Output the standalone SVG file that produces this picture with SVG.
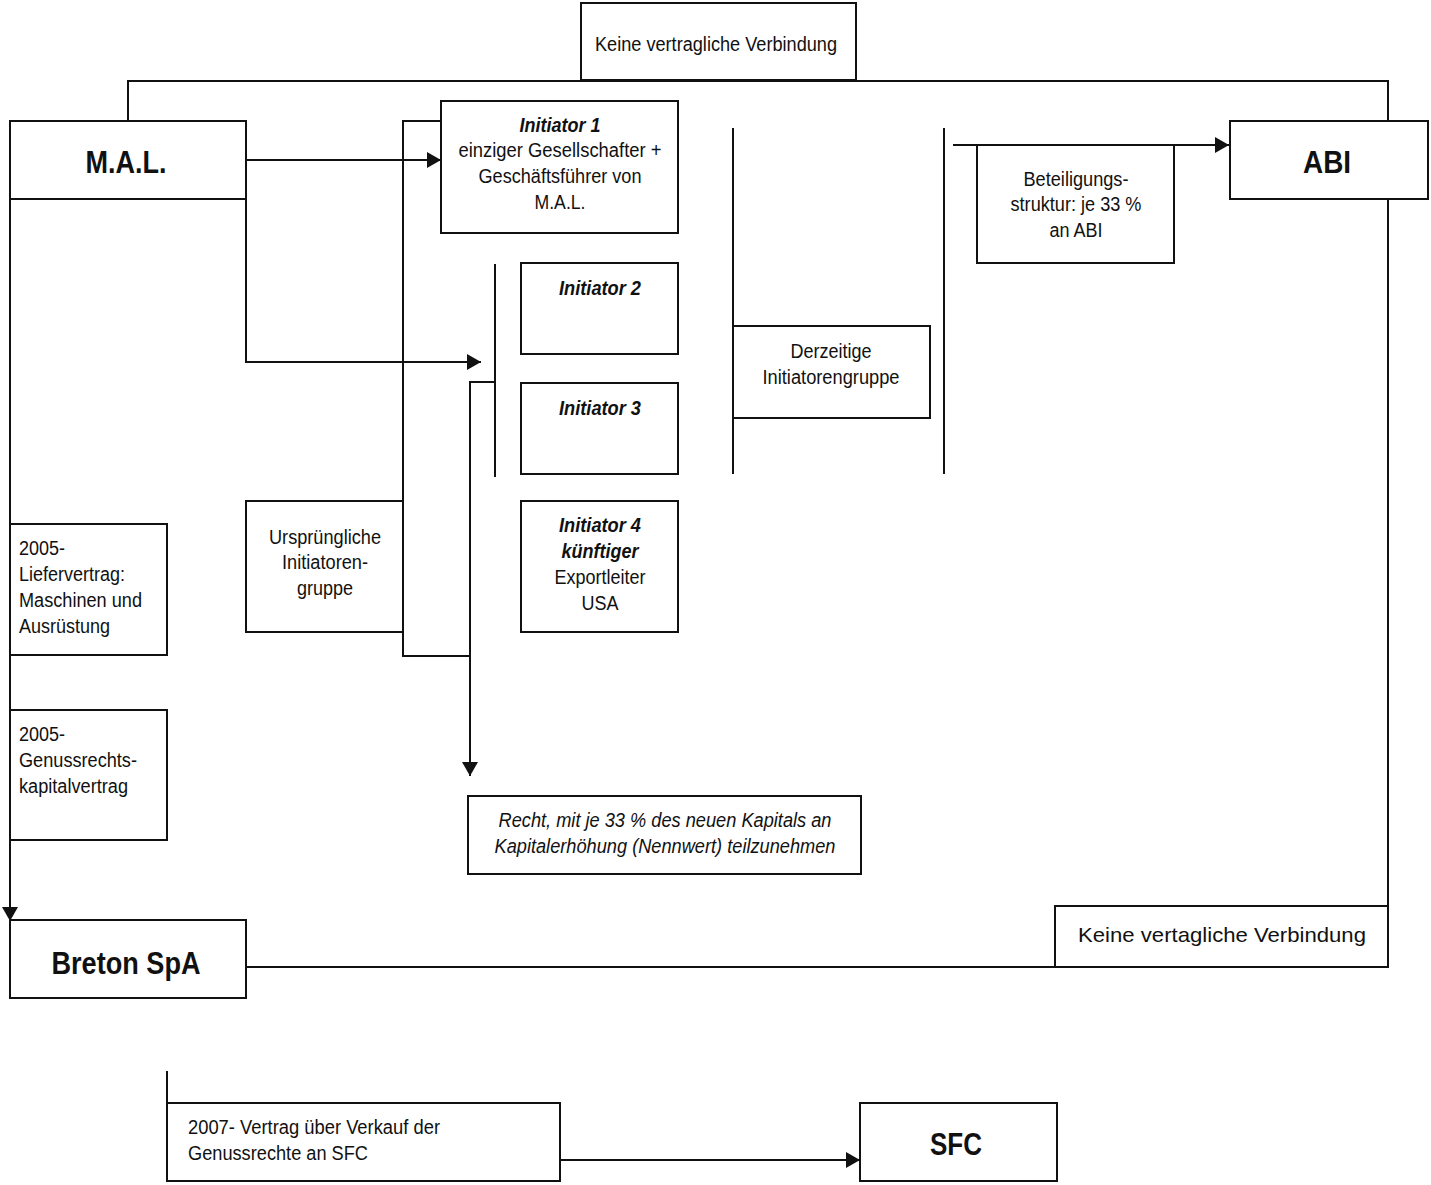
<svg xmlns="http://www.w3.org/2000/svg" width="1431" height="1185" viewBox="0 0 1431 1185">
<style>
.box{fill:#fff;stroke:#111;stroke-width:2}
.ln{fill:none;stroke:#111;stroke-width:2}
text{font-family:"Liberation Sans Narrow","Arial Narrow","Liberation Sans",sans-serif;font-size:20px;fill:#111}
.c{text-anchor:middle}
.b{font-weight:bold}
.big{font-size:31px;font-weight:bold}
.i{font-style:italic}
</style>
<defs>
<marker id="ah2" markerWidth="14" markerHeight="16" refX="14" refY="8" orient="auto" markerUnits="userSpaceOnUse" viewBox="0 0 14 16">
<path d="M0,0 L14,8 L0,16 z" fill="#111"/>
</marker>
</defs>
<rect width="1431" height="1185" fill="#fff"/>
<g id="connectors">
<polyline class="ln" points="128,121 128,81 1388,81 1388,121"/>
<line class="ln" x1="1388" y1="199" x2="1388" y2="906"/>
<line class="ln" x1="246" y1="967" x2="1055" y2="967"/>
<line class="ln" x1="246" y1="160" x2="441" y2="160" marker-end="url(#ah2)"/>
<polyline class="ln" points="246,199 246,362 481,362" marker-end="url(#ah2)"/>
<line class="ln" x1="10" y1="199" x2="10" y2="921" marker-end="url(#ah2)"/>
<polyline class="ln" points="441,121 403,121 403,656 470,656"/>
<line class="ln" x1="495" y1="264" x2="495" y2="477"/>
<polyline class="ln" points="495,382 470,382 470,776" marker-end="url(#ah2)"/>
<line class="ln" x1="733" y1="128" x2="733" y2="474"/>
<line class="ln" x1="944" y1="128" x2="944" y2="474"/>
<line class="ln" x1="953" y1="145" x2="1229" y2="145" marker-end="url(#ah2)"/>
<line class="ln" x1="167" y1="1071" x2="167" y2="1103"/>
<line class="ln" x1="560" y1="1160" x2="860" y2="1160" marker-end="url(#ah2)"/>
</g>
<g id="top-label">
<rect class="box" x="581" y="3" width="275" height="77"/>
<text class="c" x="716" y="51" textLength="242" lengthAdjust="spacingAndGlyphs">Keine vertragliche Verbindung</text>
</g>
<g id="mal">
<rect class="box" x="10" y="121" width="236" height="78"/>
<text class="c big" x="126" y="173" textLength="81" lengthAdjust="spacingAndGlyphs">M.A.L.</text>
</g>
<g id="initiator1">
<rect class="box" x="441" y="101" width="237" height="132"/>
<text class="c b i" x="560" y="132" textLength="81" lengthAdjust="spacingAndGlyphs">Initiator 1</text>
<text class="c" x="560" y="157" textLength="203" lengthAdjust="spacingAndGlyphs">einziger Gesellschafter +</text>
<text class="c" x="560" y="183" textLength="163" lengthAdjust="spacingAndGlyphs">Geschäftsführer von</text>
<text class="c" x="560" y="209" textLength="51" lengthAdjust="spacingAndGlyphs">M.A.L.</text>
</g>
<g id="initiator2">
<rect class="box" x="521" y="263" width="157" height="91"/>
<text class="c b i" x="600" y="295" textLength="82" lengthAdjust="spacingAndGlyphs">Initiator 2</text>
</g>
<g id="initiator3">
<rect class="box" x="521" y="383" width="157" height="91"/>
<text class="c b i" x="600" y="415" textLength="82" lengthAdjust="spacingAndGlyphs">Initiator 3</text>
</g>
<g id="initiator4">
<rect class="box" x="521" y="501" width="157" height="131"/>
<text class="c b i" x="600" y="532" textLength="82" lengthAdjust="spacingAndGlyphs">Initiator 4</text>
<text class="c b i" x="600" y="558" textLength="77" lengthAdjust="spacingAndGlyphs">künftiger</text>
<text class="c" x="600" y="584" textLength="91" lengthAdjust="spacingAndGlyphs">Exportleiter</text>
<text class="c" x="600" y="610" textLength="37" lengthAdjust="spacingAndGlyphs">USA</text>
</g>
<g id="urspruengliche">
<rect class="box" x="246" y="501" width="157" height="131"/>
<text class="c" x="325" y="544" textLength="112" lengthAdjust="spacingAndGlyphs">Ursprüngliche</text>
<text class="c" x="325" y="569" textLength="86" lengthAdjust="spacingAndGlyphs">Initiatoren-</text>
<text class="c" x="325" y="595" textLength="56" lengthAdjust="spacingAndGlyphs">gruppe</text>
</g>
<g id="derzeitige">
<rect class="box" x="733" y="326" width="197" height="92"/>
<text class="c" x="831" y="358" textLength="81" lengthAdjust="spacingAndGlyphs">Derzeitige</text>
<text class="c" x="831" y="384" textLength="137" lengthAdjust="spacingAndGlyphs">Initiatorengruppe</text>
</g>
<g id="beteiligung">
<rect class="box" x="977" y="145" width="197" height="118"/>
<text class="c" x="1076" y="186" textLength="105" lengthAdjust="spacingAndGlyphs">Beteiligungs-</text>
<text class="c" x="1076" y="211" textLength="131" lengthAdjust="spacingAndGlyphs">struktur: je 33 %</text>
<text class="c" x="1076" y="237" textLength="53" lengthAdjust="spacingAndGlyphs">an ABI</text>
</g>
<g id="abi">
<rect class="box" x="1230" y="121" width="198" height="78"/>
<text class="c big" x="1327" y="173" textLength="48" lengthAdjust="spacingAndGlyphs">ABI</text>
</g>
<g id="liefervertrag">
<rect class="box" x="10" y="524" width="157" height="131"/>
<text x="19" y="555" textLength="46" lengthAdjust="spacingAndGlyphs">2005-</text>
<text x="19" y="581" textLength="106" lengthAdjust="spacingAndGlyphs">Liefervertrag:</text>
<text x="19" y="607" textLength="123" lengthAdjust="spacingAndGlyphs">Maschinen und</text>
<text x="19" y="633" textLength="91" lengthAdjust="spacingAndGlyphs">Ausrüstung</text>
</g>
<g id="genussrecht">
<rect class="box" x="10" y="710" width="157" height="130"/>
<text x="19" y="741" textLength="46" lengthAdjust="spacingAndGlyphs">2005-</text>
<text x="19" y="767" textLength="118" lengthAdjust="spacingAndGlyphs">Genussrechts-</text>
<text x="19" y="793" textLength="109" lengthAdjust="spacingAndGlyphs">kapitalvertrag</text>
</g>
<g id="recht">
<rect class="box" x="468" y="796" width="393" height="78"/>
<text class="c i" x="665" y="827" textLength="333" lengthAdjust="spacingAndGlyphs">Recht, mit je 33 % des neuen Kapitals an</text>
<text class="c i" x="665" y="853" textLength="341" lengthAdjust="spacingAndGlyphs">Kapitalerhöhung (Nennwert) teilzunehmen</text>
</g>
<g id="keine2">
<rect class="box" x="1055" y="906" width="333" height="61"/>
<text class="c" x="1222" y="942" style="font-size:21px" textLength="288" lengthAdjust="spacingAndGlyphs">Keine vertagliche Verbindung</text>
</g>
<g id="breton">
<rect class="box" x="10" y="920" width="236" height="78"/>
<text class="c big" x="126" y="974" textLength="149" lengthAdjust="spacingAndGlyphs">Breton SpA</text>
</g>
<g id="vertrag2007">
<rect class="box" x="167" y="1103" width="393" height="78"/>
<text x="188" y="1134" textLength="252" lengthAdjust="spacingAndGlyphs">2007- Vertrag über Verkauf der</text>
<text x="188" y="1160" textLength="180" lengthAdjust="spacingAndGlyphs">Genussrechte an SFC</text>
</g>
<g id="sfc">
<rect class="box" x="860" y="1103" width="197" height="78"/>
<text class="c big" x="956" y="1155" textLength="52" lengthAdjust="spacingAndGlyphs">SFC</text>
</g>
</svg>
